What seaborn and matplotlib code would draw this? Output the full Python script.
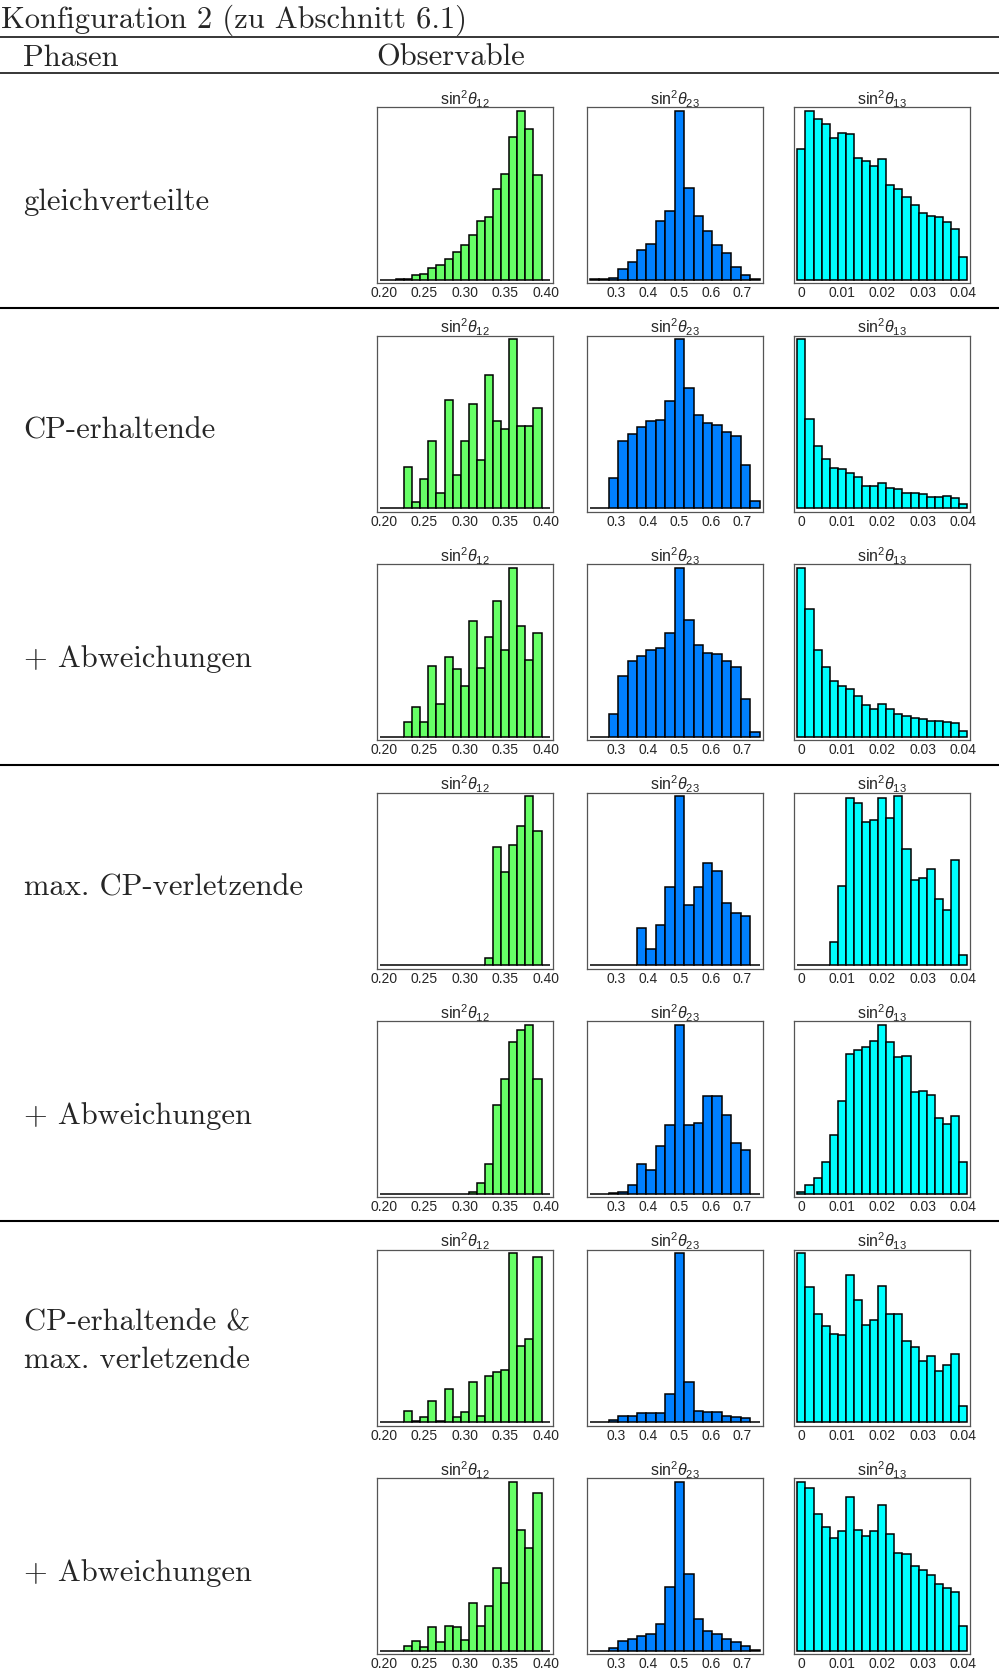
import numpy as np
import pandas as pd
import matplotlib
matplotlib.use('Agg')
import matplotlib.pyplot as plt
import seaborn as sns
from matplotlib.lines import Line2D
from matplotlib.ticker import FixedLocator

sns.set_style('white')
plt.rcParams['font.family'] = ['Liberation Sans', 'DejaVu Sans']
plt.rcParams['mathtext.fontset'] = 'custom'
plt.rcParams['mathtext.rm'] = 'Liberation Sans'
plt.rcParams['mathtext.it'] = 'Liberation Sans:italic'

# bin centres of the three observables
s12_centers = [0.20, 0.21, 0.22, 0.23, 0.24, 0.25, 0.26, 0.27, 0.28, 0.29, 0.30,
               0.31, 0.32, 0.33, 0.34, 0.35, 0.36, 0.37, 0.38, 0.39, 0.40]
s23_centers = [0.23, 0.26, 0.29, 0.32, 0.35, 0.38, 0.41, 0.44, 0.47, 0.50, 0.53,
               0.56, 0.59, 0.62, 0.65, 0.68, 0.71, 0.74]
s13_centers = [0.000, 0.002, 0.004, 0.006, 0.008, 0.010, 0.012, 0.014, 0.016, 0.018, 0.020,
               0.022, 0.024, 0.026, 0.028, 0.030, 0.032, 0.034, 0.036, 0.038, 0.040]

# relative frequencies (tallest bar = 100), one row per phase choice
s12_gleich = [0, 0, 0.3, 0.8, 2.7, 3.3, 6.9, 8.8, 12.5, 16.5, 20.6, 26.3, 35, 36.9, 54, 62.7, 84.3, 100, 89, 62, 0]
s23_gleich = [0.3, 0.4, 1, 6.3, 10.8, 17.8, 21, 34.7, 40.8, 100, 54.5, 37.5, 29, 20.6, 15.7, 7.5, 2.9, 0.6]
s13_gleich = [77.2, 100, 94.9, 92.3, 83.9, 86.6, 86, 71.9, 70.1, 67.3, 71.5, 55.9, 53.7, 48.8, 44.5, 39.4, 38, 37, 34.3, 30.3, 13.8]

s12_cp = [0, 0, 0, 24.2, 3.8, 17.4, 39.6, 9.3, 64, 19.6, 39.6, 61.6, 28.9, 79, 51.9, 46.7, 100, 48.5, 48.7, 59.6, 0]
s23_cp = [0, 0, 17.8, 39.6, 44.2, 48.1, 51.9, 52.1, 63.4, 100, 71.1, 55, 50.5, 49.3, 45.1, 42.8, 25.9, 4.4]
s13_cp = [100, 52.9, 36.6, 29.1, 23.6, 23, 21, 18.6, 13.3, 13.5, 15.2, 11.9, 11.3, 9.3, 9.1, 8.3, 6.9, 6.7, 7.5, 6.3, 2.8]

s12_cp_abw = [0, 0, 0, 8.9, 17.8, 8.9, 42.2, 19.6, 47.5, 40.2, 30.3, 68.7, 40.6, 58.8, 80.6, 51.1, 100, 65.7, 45.7, 61.2, 0]
s23_cp_abw = [0, 0, 13.3, 36.2, 45, 48.1, 51.5, 52.5, 61.4, 100, 68.9, 54.5, 49.5, 48.9, 44.8, 41.6, 22.2, 3]
s13_cp_abw = [100, 75.8, 51.3, 41.2, 33.1, 30.1, 28.3, 24, 18.6, 16.4, 19.4, 16.4, 13.5, 12.5, 10.9, 10.5, 9.5, 9.3, 8.9, 8.1, 3.6]

s12_max = [0, 0, 0, 0, 0, 0, 0, 0, 0, 0, 0, 0, 0, 4.2, 69.9, 55.2, 71.3, 82.6, 100, 79.6, 0]
s23_max = [0, 0, 0, 0, 0, 22, 9.9, 23.8, 46.1, 100, 35.8, 46.1, 60.8, 55.8, 37, 30.9, 29.3, 0]
s13_max = [0, 0, 0, 0, 14, 46.9, 99, 96, 84.8, 86, 99, 87.3, 100, 68.9, 50.5, 51.9, 57, 39.2, 32.5, 62.4, 6.1]

s12_max_abw = [0, 0, 0, 0, 0, 0, 0, 0, 0, 0, 0, 1, 6.5, 17.6, 52.3, 68.1, 89.9, 96.6, 100, 67.7, 0]
s23_max_abw = [0, 0, 0.4, 1.4, 5.3, 17.6, 14.1, 28.5, 40.8, 100, 40.8, 42, 58, 58, 46.9, 30.3, 25.9, 0.2]
s13_max_abw = [1, 5, 9.7, 18.8, 34.9, 55.2, 82.6, 85.3, 86.7, 90.1, 100, 89.5, 81, 81.4, 60, 60.8, 58.2, 45.1, 41.4, 46.3, 19]

s12_mix = [0, 0, 0, 6.5, 0.8, 3.4, 12.5, 0.8, 20, 3.4, 5.9, 23.6, 3.6, 27.7, 29.7, 30.7, 100, 45, 49.5, 97.6, 0]
s23_mix = [0, 0, 1.4, 3.6, 4, 5.7, 5.5, 5.5, 16.8, 100, 23.8, 6.5, 5.9, 6.3, 3.6, 3, 2.4, 0]
s13_mix = [100, 80.2, 64, 57, 52.5, 51.7, 87.1, 72.1, 57.8, 60.6, 80.6, 64, 64, 48.1, 44.4, 36.4, 39.4, 30.5, 33.9, 40.6, 9.9]

s12_mix_abw = [0, 0, 0, 3.2, 5.7, 2.2, 14.1, 5.5, 15, 14.3, 6.5, 28.5, 14.5, 26.3, 49.1, 40.2, 100, 71.3, 60.8, 93.5, 0]
s23_mix_abw = [0, 0, 1.6, 5.9, 7.3, 8.7, 9.9, 16, 37.8, 100, 45.3, 18.6, 11.7, 9.9, 7.3, 5.5, 3.2, 0.4]
s13_mix_abw = [100, 96.4, 80.8, 73.3, 66.9, 70.7, 90.9, 71.7, 67.9, 70.7, 86.3, 69.3, 58, 57.2, 50.1, 47.7, 45, 39.4, 37.4, 34.9, 15]

row_labels = [['gleichverteilte'], ['CP-erhaltende'], ['+ Abweichungen'], ['max. CP-verletzende'],
              ['+ Abweichungen'], ['CP-erhaltende &', 'max. verletzende'], ['+ Abweichungen']]

rows = [(s12_gleich, s23_gleich, s13_gleich), (s12_cp, s23_cp, s13_cp),
        (s12_cp_abw, s23_cp_abw, s13_cp_abw), (s12_max, s23_max, s13_max),
        (s12_max_abw, s23_max_abw, s13_max_abw), (s12_mix, s23_mix, s13_mix),
        (s12_mix_abw, s23_mix_abw, s13_mix_abw)]

# per-column settings: centres, bin width, colour, title, ticks
cols = [
    dict(c=s12_centers, w=0.01, color='#66ff66', title=r'$\mathrm{sin}^2\theta_{12}$',
         ticks=[0.20, 0.25, 0.30, 0.35, 0.40], labels=['0.20', '0.25', '0.30', '0.35', '0.40'],
         minor=0.01),
    dict(c=s23_centers, w=0.03, color='#0080ff', title=r'$\mathrm{sin}^2\theta_{23}$',
         ticks=[0.3, 0.4, 0.5, 0.6, 0.7], labels=['0.3', '0.4', '0.5', '0.6', '0.7'],
         minor=0.02),
    dict(c=s13_centers, w=0.002, color='#00ffff', title=r'$\mathrm{sin}^2\theta_{13}$',
         ticks=[0, 0.01, 0.02, 0.03, 0.04], labels=['0', '0.01', '0.02', '0.03', '0.04'],
         minor=0.002),
]

W, H = 999, 1675
fig = plt.figure(figsize=(W / 100, H / 100), dpi=100)


def px_axes(left, top, w, h):
    return fig.add_axes([left / W, 1 - (top + h) / H, w / W, h / H])


def hline(y, lw):
    fig.add_artist(Line2D([0, 1], [1 - y / H, 1 - y / H], transform=fig.transFigure,
                          color='black', lw=lw))


col_left = [376.5, 586.5, 794.0]
panel_w, panel_h = 176.5, 176.0
row_top0, row_step = 107.3, 228.5
frame_col = '#555555'

for i, vals in enumerate(rows):
    top = row_top0 + i * row_step
    for j, cfg in enumerate(cols):
        ax = px_axes(col_left[j], top, panel_w, panel_h)
        c = np.array(cfg['c'])
        edges = np.append(c - cfg['w'] / 2, c[-1] + cfg['w'] / 2)
        df = pd.DataFrame({'x': c, 'n': vals[j]})
        sns.histplot(data=df, x='x', weights='n', bins=list(edges), color=cfg['color'],
                     alpha=1, edgecolor='black', linewidth=1.1, ax=ax)
        span = edges[-1] - edges[0]
        ax.set_xlim(edges[0] - 0.02 * span, edges[-1] + 0.02 * span)
        ymax = max(vals[j])
        ax.set_ylim(-0.02 * ymax, 1.02 * ymax)
        ax.set_xlabel('')
        ax.set_ylabel('')
        ax.set_yticks([])
        ax.set_xticks(cfg['ticks'])
        ax.set_xticklabels(cfg['labels'])
        mn = np.arange(edges[0] - cfg['w'] / 2, edges[-1] + cfg['w'], cfg['minor'])
        ax.xaxis.set_minor_locator(FixedLocator(mn))
        ax.tick_params(axis='x', which='major', direction='in', length=3, width=0.6,
                       color=frame_col, labelsize=10, pad=2)
        ax.tick_params(axis='x', which='minor', direction='in', length=1.5, width=0.5,
                       color=frame_col)
        for sp in ax.spines.values():
            sp.set_color(frame_col)
            sp.set_linewidth(0.9)
        ax.set_title(cfg['title'], fontsize=11.5, pad=1.5)

    # row label
    yc = top + panel_h / 2
    lines = row_labels[i]
    if len(lines) == 1:
        fig.text(23.5 / W, 1 - (yc + 14.5) / H, lines[0], fontfamily='cmr10', fontsize=22,
                 va='baseline', ha='left')
    else:
        for k, t in enumerate(lines):
            fig.text(23.5 / W, 1 - (yc - 7.7 + 38.4 * k) / H, t, fontfamily='cmr10',
                     fontsize=22, va='baseline', ha='left')

# header
fig.text(1 / W, 1 - 27.5 / H, 'Konfiguration 2 (zu Abschnitt 6.1)', fontfamily='cmr10',
         fontsize=22, va='baseline', ha='left')
fig.text(23.5 / W, 1 - 66 / H, 'Phasen', fontfamily='cmr10', fontsize=22,
         va='baseline', ha='left')
fig.text(376 / W, 1 - 66 / H, 'Observable', fontfamily='cmr10', fontsize=22,
         va='baseline', ha='left')

hline(37.4, 1.1)
hline(72.7, 1.1)
hline(307.7, 1.5)
hline(765.0, 1.5)
hline(1221.0, 1.5)

fig.savefig('out.png', dpi=100)
